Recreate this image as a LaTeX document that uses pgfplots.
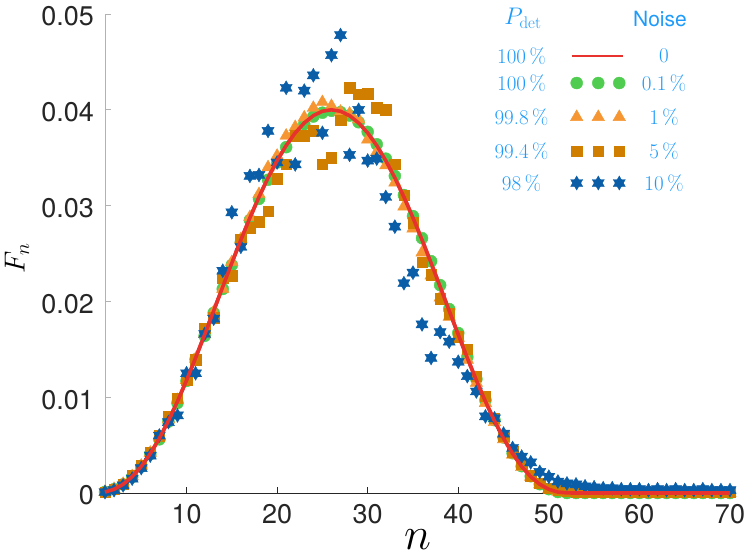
\RequirePackage{fix-cm}
\documentclass[border=0pt]{standalone}
\usepackage{fontspec}
\setsansfont{TeX Gyre Heros}
\usepackage{pgfplots}
\usepackage{pgfplotstable}
\pgfplotsset{compat=1.18}

\definecolor{lb}{RGB}{30,155,250}
\definecolor{cred}{RGB}{232,50,45}
\definecolor{cgreen}{RGB}{80,205,80}
\definecolor{corange}{RGB}{245,150,50}
\definecolor{csq}{RGB}{208,126,0}
\definecolor{cstar}{RGB}{10,94,168}
\definecolor{axc}{RGB}{38,38,38}

\pgfdeclareplotmark{hexstar}{%
  \pgfpathmoveto{\pgfpointpolar{90}{\pgfplotmarksize}}%
  \pgfpathlineto{\pgfpointpolar{210}{\pgfplotmarksize}}%
  \pgfpathlineto{\pgfpointpolar{330}{\pgfplotmarksize}}%
  \pgfpathclose
  \pgfpathmoveto{\pgfpointpolar{270}{\pgfplotmarksize}}%
  \pgfpathlineto{\pgfpointpolar{30}{\pgfplotmarksize}}%
  \pgfpathlineto{\pgfpointpolar{150}{\pgfplotmarksize}}%
  \pgfpathclose
  \pgfusepathqfillstroke
}

\tikzset{lbtext/.style={text=lb, font=\fontsize{21}{21}\selectfont, inner sep=0pt, anchor=center, draw=none, fill=none}}
\pgfplotsset{
  legrow/.style n args={5}{legend image code/.code={%
    \path[draw=none,fill=none] (-82pt,#4) rectangle (122pt,#5);
    #2
    \node[lbtext] at (-50.2pt,0pt) {#1};
    \node[lbtext] at (92.3pt,0pt) {#3};}},
}

\begin{document}
\pgfplotstableread{
n line circ tri sq star
1 0.00010 0.00012 0.00012 0.00010 0.00010
2 0.00039 0.00040 0.00042 0.00040 0.00030
3 0.00091 0.00090 0.00095 0.00092 0.00080
4 0.00171 0.00168 0.00175 0.00180 0.00150
5 0.00277 0.00275 0.00285 0.00290 0.00260
6 0.00411 0.00408 0.00420 0.00420 0.00390
7 0.00570 0.00560 0.00590 0.00600 0.00600
8 0.00753 0.00745 0.00770 0.00800 0.00740
9 0.00956 0.00940 0.00970 0.00990 0.00810
10 0.01176 0.01170 0.01180 0.01180 0.01250
11 0.01410 0.01395 0.01400 0.01390 0.01250
12 0.01653 0.01640 0.01660 0.01720 0.01660
13 0.01902 0.01880 0.01890 0.01830 0.01820
14 0.02153 0.02130 0.02130 0.02240 0.02320
15 0.02401 0.02380 0.02410 0.02270 0.02930
16 0.02642 0.02620 0.02650 0.02650 0.02570
17 0.02873 0.02850 0.02880 0.02770 0.03310
18 0.03090 0.03070 0.03120 0.02830 0.03320
19 0.03290 0.03270 0.03400 0.02940 0.03780
20 0.03470 0.03450 0.03520 0.03280 0.03450
21 0.03627 0.03610 0.03730 0.03430 0.04230
22 0.03759 0.03740 0.03820 0.03730 0.03430
23 0.03863 0.03850 0.03920 0.03730 0.04200
24 0.03939 0.03930 0.04020 0.03780 0.04360
25 0.03985 0.03970 0.04080 0.03430 0.03760
26 0.04000 0.03990 0.04040 0.03500 0.04570
27 0.03985 0.03975 0.03980 0.03890 0.04780
28 0.03939 0.03940 0.03960 0.04230 0.03530
29 0.03863 0.03870 0.03900 0.04160 0.04000
30 0.03759 0.03770 0.03690 0.04170 0.03470
31 0.03627 0.03640 0.03560 0.04020 0.03490
32 0.03470 0.03490 0.03420 0.04000 0.03090
33 0.03290 0.03310 0.03240 0.03430 0.02780
34 0.03090 0.03110 0.02990 0.03110 0.02190
35 0.02873 0.02890 0.02760 0.02820 0.02300
36 0.02642 0.02660 0.02510 0.02410 0.01760
37 0.02401 0.02420 0.02270 0.02280 0.01410
38 0.02153 0.02170 0.02040 0.02030 0.01680
39 0.01902 0.01920 0.01840 0.01870 0.01580
40 0.01653 0.01670 0.01620 0.01630 0.01370
41 0.01410 0.01420 0.01390 0.01500 0.01220
42 0.01176 0.01190 0.01150 0.01220 0.01060
43 0.00956 0.00970 0.00940 0.01010 0.00800
44 0.00753 0.00760 0.00740 0.00780 0.00780
45 0.00570 0.00580 0.00560 0.00600 0.00620
46 0.00411 0.00415 0.00400 0.00430 0.00470
47 0.00277 0.00280 0.00270 0.00300 0.00380
48 0.00171 0.00175 0.00170 0.00180 0.00320
49 0.00091 0.00092 0.00090 0.00100 0.00220
50 0.00039 0.00040 0.00040 0.00050 0.00170
51 0.00010 0.00010 0.00012 0.00030 0.00120
52 0.00001 0.00000 0.00005 0.00020 0.00100
53 0 0 0.00003 0.00015 0.00090
54 0 0 0.00002 0.00015 0.00070
55 0 0 0.00002 0.00012 0.00060
56 0 0 0.00002 0.00012 0.00050
57 0 0 0.00002 0.00012 0.00050
58 0 0 0.00002 0.00011 0.00040
59 0 0 0.00002 0.00011 0.00040
60 0 0 0.00002 0.00011 0.00040
61 0 0 0.00002 0.00010 0.00030
62 0 0 0.00002 0.00010 0.00040
63 0 0 0.00002 0.00010 0.00030
64 0 0 0.00002 0.00010 0.00040
65 0 0 0.00002 0.00010 0.00030
66 0 0 0.00002 0.00010 0.00030
67 0 0 0.00002 0.00010 0.00040
68 0 0 0.00002 0.00010 0.00030
69 0 0 0.00002 0.00010 0.00030
70 0 0 0.00002 0.00010 0.00030
}\datatable

\begin{tikzpicture}
\path[use as bounding box] (-105pt,-65pt) rectangle (642pt,493pt);
\begin{axis}[
  at={(0,0)}, anchor=south west,
  scale only axis, width=625pt, height=479pt,
  xmin=1, xmax=70, ymin=0, ymax=0.05,
  axis lines=left, axis line style={-},
  x axis line style={draw=axc, line width=0.9pt},
  y axis line style={draw=gray!60, line width=0.9pt},
  tick align=inside, major tick length=6pt,
  scaled y ticks=false, scaled x ticks=false,
  xtick={10,20,30,40,50,60,70}, xticklabels={10,20,30,40,50,60,70},
  ytick={0,0.01,0.02,0.03,0.04,0.05}, yticklabels={0,0.01,0.02,0.03,0.04,0.05},
  xtick style={draw=axc, line width=0.9pt},
  ytick style={draw=gray!60, line width=0.9pt},
  tick label style={font=\sffamily\fontsize{27}{27}\selectfont, text=axc},
  x tick label style={yshift=-8pt},
  y tick label style={inner sep=0pt, xshift=-11pt, yshift=-2.5pt},
  xlabel={$n$}, ylabel={$F_n$},
  xlabel style={font=\fontsize{46}{46}\selectfont, inner sep=0pt, at={(axis description cs:0.5,0)}, anchor=base, yshift=-56pt},
  ylabel style={font=\fontsize{29}{29}\selectfont, at={(axis description cs:0,0.49)}, anchor=center, yshift=88pt},
  clip=false, clip marker paths=true,
  legend style={at={(0.6155,1.0292)}, anchor=north west, draw=none, fill=none, inner sep=0pt, outer sep=0pt, row sep=0pt, nodes={inner sep=0pt}},
]
\addlegendimage{legend image code/.code={%
   \path[draw=none,fill=none] (-82pt,18pt) rectangle (122pt,-19pt);
   \node[text=lb, font=\fontsize{24}{24}\selectfont, inner sep=0pt, draw=none] at (-48.7pt,0.5pt) {$P_{\mathrm{det}}$};
   \node[text=lb, font=\sffamily\fontsize{21}{21}\selectfont, inner sep=0pt, draw=none] at (88.3pt,-1.5pt) {Noise};}}
\addlegendentry{}

\addplot[cred, line width=3.6pt,
  legrow={100\,\%}{\draw[cred,line width=2.6pt] (0pt,0pt) -- (51.6pt,0pt);}{0}{19pt}{-13.5pt}]
  table[x=n,y=line]{\datatable};
\addlegendentry{}

\addplot[only marks, mark=*, mark size=6pt, color=cgreen,
  legrow={100\,\%}{\draw[cgreen,fill=cgreen] plot[only marks,mark=*,mark size=6pt] coordinates {(5pt,0pt) (26.6pt,0pt) (47.6pt,0pt)};}{0.1\,\%}{13.5pt}{-17pt}]
  table[x=n,y=circ]{\datatable};
\addlegendentry{}

\addplot[only marks, mark=triangle*, mark size=7.2pt, color=corange,
  legrow={99.8\,\%}{\draw[corange,fill=corange] plot[only marks,mark=triangle*,mark size=7.2pt] coordinates {(5pt,0pt) (26.6pt,0pt) (47.6pt,0pt)};}{1\,\%}{17pt}{-17pt}]
  table[x=n,y=tri]{\datatable};
\addlegendentry{}

\addplot[only marks, mark=square*, mark size=5.2pt, color=csq,
  legrow={99.4\,\%}{\draw[csq,fill=csq] plot[only marks,mark=square*,mark size=5.2pt] coordinates {(5pt,0pt) (26.6pt,0pt) (47.6pt,0pt)};}{5\,\%}{17pt}{-16pt}]
  table[x=n,y=sq]{\datatable};
\addlegendentry{}

\addplot[only marks, mark=hexstar, mark size=7pt, color=cstar,
  legrow={98\,\%}{\draw[cstar,fill=cstar] plot[only marks,mark=hexstar,mark size=7pt] coordinates {(5pt,0pt) (26.6pt,0pt) (47.6pt,0pt)};}{10\,\%}{16pt}{-16pt}]
  table[x=n,y=star]{\datatable};
\addlegendentry{}

\addplot[cred, line width=3.6pt, forget plot] table[x=n,y=line]{\datatable};
\end{axis}
\end{tikzpicture}
\end{document}
